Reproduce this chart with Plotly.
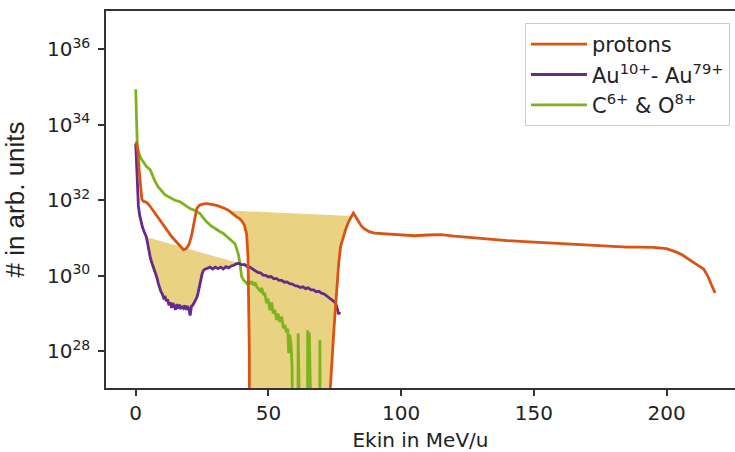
import plotly.graph_objects as go

# ---------------- data (energy in MeV/u, counts as log10 of # in arb. units) ----------------
ZERO_LOG = 15.0  # empty bins (zero counts) -> drawn below the axis like matplotlib's clip

proton_x = [0.2, 0.8, 1.3, 1.8, 2.3, 3.0, 4.0, 5.0, 6.0, 7.0, 8.0, 9.0, 10.0, 11.0, 12.0,
            13.0, 14.0, 15.0, 16.0, 17.0, 18.0, 19.0, 20.0, 21.0, 22.0, 23.0, 24.0, 25.0,
            26.0, 27.0, 28.0, 29.0, 30.0, 31.0, 32.0, 33.0, 34.0, 35.0, 36.0, 37.0, 38.0,
            39.0, 40.0, 41.0, 41.8, 42.3, 42.6, 42.8, 43.0, 58.0, 73.0, 73.3, 74.0, 74.7,
            75.3, 75.9, 76.5, 77.2, 78.2, 79.2, 80.2, 81.2, 82.0, 83.0, 84.0, 85.0, 86.0,
            88.0, 90.0, 95.0, 100.0, 105.0, 110.0, 115.0, 120.0, 125.0, 130.0, 135.0, 140.0,
            145.0, 150.0, 155.0, 160.0, 165.0, 170.0, 175.0, 180.0, 185.0, 190.0, 195.0,
            200.0, 202.0, 204.0, 206.0, 208.0, 210.0, 212.0, 214.0, 215.5, 217.0, 218.3]
proton_log = [33.55, 33.3, 32.8, 32.3, 32.02, 31.97, 31.95, 31.88, 31.78, 31.66, 31.56, 31.46,
              31.36, 31.27, 31.18, 31.09, 31.0, 30.92, 30.84, 30.76, 30.69, 30.72, 30.82, 31.05,
              31.45, 31.78, 31.87, 31.9, 31.91, 31.91, 31.9, 31.89, 31.87, 31.85, 31.83, 31.8,
              31.77, 31.73, 31.67, 31.6, 31.56, 31.52, 31.45, 31.33, 31.1, 30.5, 29.5, 28.0,
              ZERO_LOG, ZERO_LOG, ZERO_LOG, 27.0, 27.9, 28.6, 29.2, 29.8, 30.35, 30.78, 31.05,
              31.25, 31.43, 31.58, 31.66, 31.55, 31.42, 31.32, 31.25, 31.17, 31.13, 31.1, 31.08,
              31.06, 31.08, 31.09, 31.05, 31.02, 30.98, 30.95, 30.93, 30.91, 30.89, 30.87,
              30.85, 30.83, 30.81, 30.79, 30.77, 30.76, 30.76, 30.75, 30.72, 30.68, 30.62,
              30.55, 30.45, 30.35, 30.27, 30.18, 30.0, 29.75, 29.55]

au_x = [0.0, 0.3, 0.6, 1.0, 1.5, 2.0, 2.5, 3.0, 3.5, 4.0, 4.5, 5.0, 5.5, 6.0, 6.5, 7.0, 7.5,
        8.0, 8.5, 9.0, 9.5, 10.0, 10.5, 11.0, 11.5, 12.0, 12.5, 13.0, 13.5, 14.0, 14.5, 15.0,
        15.5, 16.0, 16.5, 17.0, 17.5, 18.0, 18.5, 19.0, 19.5, 20.0, 20.5, 21.0, 21.5, 22.0,
        22.5, 23.0, 23.5, 24.0, 24.5, 25.0, 25.5, 26.0, 27.0, 28.0, 29.0, 30.0, 31.0, 32.0,
        33.0, 34.0, 35.0, 36.0, 37.0, 38.0, 39.0, 40.0, 41.0, 42.0, 43.0, 44.0, 45.0, 46.0,
        47.0, 48.0, 49.0, 50.0, 51.0, 52.0, 53.0, 54.0, 55.0, 56.0, 57.0, 58.0, 59.0, 60.0,
        61.0, 62.0, 63.0, 64.0, 65.0, 66.0, 67.0, 68.0, 69.0, 70.0, 71.0, 72.0, 73.0, 74.0,
        75.0, 75.5, 76.0, 76.5, 76.8]
au_log = [33.5, 33.0, 32.4, 31.85, 31.6, 31.42, 31.3, 31.2, 31.1, 31.03, 30.85, 30.62, 30.48,
          30.36, 30.26, 30.18, 30.05, 29.95, 29.8, 29.66, 29.58, 29.52, 29.42, 29.46, 29.33,
          29.38, 29.22, 29.3, 29.15, 29.28, 29.2, 29.1, 29.25, 29.13, 29.24, 29.12, 29.2,
          29.15, 29.22, 29.1, 29.2, 29.13, 28.95, 29.2, 29.22, 29.3, 29.36, 29.42, 29.55,
          29.72, 29.9, 30.05, 30.14, 30.17, 30.2, 30.23, 30.18, 30.23, 30.19, 30.23, 30.18,
          30.24, 30.21, 30.26, 30.28, 30.32, 30.33, 30.29, 30.3, 30.24, 30.23, 30.18, 30.15,
          30.09, 30.08, 30.02, 30.01, 29.97, 29.98, 29.92, 29.93, 29.88, 29.88, 29.83, 29.84,
          29.79, 29.78, 29.74, 29.73, 29.69, 29.71, 29.66, 29.68, 29.63, 29.63, 29.58, 29.59,
          29.54, 29.52, 29.46, 29.42, 29.35, 29.3, 29.24, 29.1, 28.98, 29.05]

co_x = [0.0, 0.2, 0.4, 0.6, 1.0, 1.5, 2.3, 3.0, 4.0, 5.4, 6.3, 7.3, 8.5, 9.8, 11.0, 12.9,
        14.8, 16.7, 18.5, 20.5, 22.5, 24.2, 25.5, 26.7, 28.3, 29.9, 31.5, 33.0, 34.2, 35.5,
        36.5, 37.4, 38.0, 38.6, 39.3, 39.9, 40.6, 41.2, 41.8, 42.6, 43.2, 43.7, 44.5, 45.0,
        45.6, 46.3, 47.0, 47.5, 48.1, 48.6, 49.3, 49.8, 50.3, 50.6, 51.2, 51.8, 52.4, 53.1,
        53.6, 54.3, 55.0, 55.6, 56.2, 56.8, 57.3, 57.6, 58.0, 58.5, 58.9, 59.3, 60.8, 61.2,
        61.6, 64.4, 64.8, 65.1, 65.4, 65.7, 69.0, 69.4, 69.8, 76.0]
co_log = [34.94, 34.5, 33.8, 33.42, 33.3, 33.18, 33.07, 33.0, 32.9, 32.81, 32.65, 32.5,
          32.35, 32.25, 32.15, 32.07, 32.0, 31.96, 31.88, 31.78, 31.72, 31.65, 31.53, 31.43,
          31.33, 31.25, 31.18, 31.12, 31.04, 30.98, 30.9, 30.85, 30.72, 30.59, 30.32, 29.98,
          29.89, 29.83, 29.8, 29.86, 29.78, 29.85, 29.75, 29.82, 29.71, 29.65, 29.6, 29.68,
          29.49, 29.55, 29.27, 29.4, 29.15, 29.09, 29.3, 29.0, 29.1, 28.83, 29.0, 28.78,
          28.92, 28.61, 28.7, 28.5, 28.6, 27.95, 28.45, 28.2, 27.6, ZERO_LOG, ZERO_LOG, 28.48,
          ZERO_LOG, ZERO_LOG, 28.56, 28.15, 28.5, ZERO_LOG, ZERO_LOG, 28.3, ZERO_LOG, ZERO_LOG]

# energy windows of the highlighted (shaded) regions
au_shade = (4.0, 39.0)
proton_shade = (35.0, 81.2)

x_ticks = [0, 50, 100, 150, 200]
y_tick_exps = [28, 30, 32, 34, 36]

# ---------------- figure ----------------
COL_P = "#D95414"
COL_AU = "#642A8C"
COL_CO = "#7DB41E"
COL_FILL = "#EAD283"
FONT = "DejaVu Sans"


def to_val(logs):
    return [10.0 ** float(v) for v in logs]


def window(xs, ys, lo, hi):
    pts = [(x, y) for x, y in zip(xs, ys) if lo <= x <= hi]
    return [p[0] for p in pts], [p[1] for p in pts]


fig = go.Figure()

for xs, ys, (lo, hi) in [(au_x, au_log, au_shade), (proton_x, proton_log, proton_shade)]:
    fx, fy = window(xs, to_val(ys), lo, hi)
    fig.add_trace(go.Scatter(x=fx, y=fy, mode="lines", line=dict(width=0),
                             fill="toself", fillcolor=COL_FILL, showlegend=False,
                             hoverinfo="skip"))

fig.add_trace(go.Scatter(x=co_x, y=to_val(co_log), mode="lines", name="C<sup>6+</sup> &amp; O<sup>8+</sup>",
                         line=dict(color=COL_CO, width=2.8), legendrank=3))
fig.add_trace(go.Scatter(x=au_x, y=to_val(au_log), mode="lines",
                         name="Au<sup>10+</sup>- Au<sup>79+</sup>",
                         line=dict(color=COL_AU, width=2.8), legendrank=2))
fig.add_trace(go.Scatter(x=proton_x, y=to_val(proton_log), mode="lines", name="protons",
                         line=dict(color=COL_P, width=2.8), legendrank=1))

fig.update_layout(
    width=735, height=452,
    margin=dict(l=106, r=0, t=11, b=64, autoexpand=False),
    paper_bgcolor="white", plot_bgcolor="white",
    font=dict(family=FONT, size=20, color="#222"),
    legend=dict(x=0.992, y=0.968, xanchor="right", yanchor="top",
                bgcolor="white", bordercolor="#cccccc", borderwidth=1,
                font=dict(family=FONT, size=21, color="#222"),
                itemwidth=56, tracegroupgap=0),
)
fig.update_xaxes(
    range=[-11.2, 225.8], tickvals=x_ticks, ticktext=[str(t) for t in x_ticks],
    ticks="outside", ticklen=6, tickwidth=1.5, tickcolor="#333",
    showline=True, linecolor="#333", linewidth=1.5, mirror=True,
    showgrid=False, zeroline=False, automargin=False,
    title=dict(text="Ekin in MeV/u", font=dict(family=FONT, size=20)),
)
fig.update_yaxes(
    type="log", range=[27.03, 37.01],
    tickvals=[10.0 ** e for e in y_tick_exps],
    ticktext=["10<sup>%d</sup>" % e for e in y_tick_exps],
    ticks="outside", ticklen=6, tickwidth=1.5, tickcolor="#333", ticklabelstandoff=4,
    showline=True, linecolor="#333", linewidth=1.5, mirror=False,
    showgrid=False, zeroline=False, automargin=False,
    title=dict(text="# in arb. units", font=dict(family="Liberation Sans", size=26)),
)

# remove the page's default body margin so the 735x452 figure fills the window exactly
fig.write_html("out.html", config={"displayModeBar": False},
               post_script="document.body.style.margin='0';")
